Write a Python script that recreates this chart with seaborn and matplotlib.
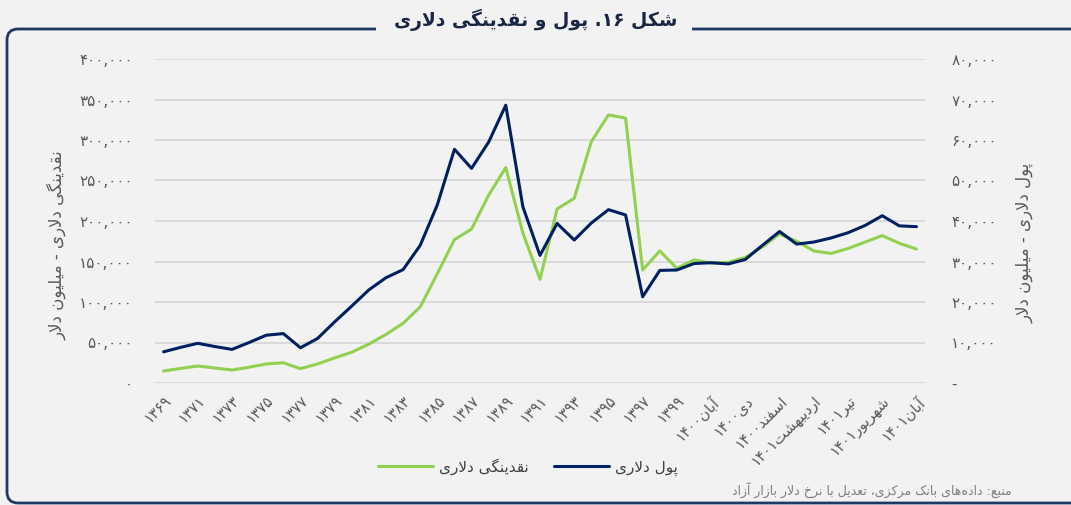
import matplotlib
matplotlib.use("Agg")
import matplotlib.pyplot as plt
from matplotlib.patches import FancyBboxPatch, Rectangle
import numpy as np
import pandas as pd
import seaborn as sns

# ── داده‌ها ───────────────────────────────────────────────
years = [str(y) for y in range(1369, 1400)]
months = ["مهر۱۴۰۰", "آبان۱۴۰۰", "آذر۱۴۰۰", "دی۱۴۰۰", "بهمن۱۴۰۰", "اسفند۱۴۰۰",
          "فروردین۱۴۰۱", "اردیبهشت۱۴۰۱", "خرداد۱۴۰۱", "تیر۱۴۰۱", "مرداد۱۴۰۱",
          "شهریور۱۴۰۱", "مهر۱۴۰۱", "آبان۱۴۰۱"]

# نقدینگی دلاری (میلیون دلار) - محور چپ
liquidity = [14800, 18000, 21000, 18500, 16000, 19500, 23500, 25000, 17700, 23500,
             31000, 38000, 48000, 60000, 73700, 94000, 135000, 177000, 190000, 232000,
             266000, 185000, 128000, 215000, 228000, 298000, 331000, 327000, 139500, 163000,
             141600, 152000, 148000, 149000, 155000, 168000, 184000, 175000, 163000, 160000,
             166000, 174000, 182000, 172500, 165400]

# پول دلاری (میلیون دلار) - محور راست
money = [7700, 8800, 9800, 9000, 8300, 10000, 11800, 12200, 8700, 11000,
         15100, 19000, 23000, 26000, 28000, 34000, 44000, 57700, 53000, 59500,
         68600, 43500, 31500, 39400, 35300, 39500, 42800, 41500, 21300, 27800,
         27900, 29500, 29700, 29400, 30500, 34000, 37400, 34300, 34800, 35800,
         37100, 38900, 41300, 38800, 38600]

title = "شکل ۱۶. پول و نقدینگی دلاری"
left_label = "نقدینگی دلاری - میلیون دلار"
right_label = "پول دلاری - میلیون دلار"
series_names = ["نقدینگی دلاری", "پول دلاری"]
source = "منبع: داده‌های بانک مرکزی، تعدیل با نرخ دلار بازار آزاد"

NAVY = "#002060"
GREEN = "#92D050"
BG = "#F2F2F2"
GRID = "#D9D9D9"
TXT = "#595959"
FRAME = "#1F3864"

# ── شکل‌دهی حروف فارسی (matplotlib اتصال و راست‌به‌چپ ندارد) ────────
FORMS = {  # isolated, final, initial, medial
    "ا": ("\uFE8D", "\uFE8E", None, None),
    "آ": ("\uFE81", "\uFE82", None, None),
    "ب": ("\uFE8F", "\uFE90", "\uFE91", "\uFE92"),
    "پ": ("\uFB56", "\uFB57", "\uFB58", "\uFB59"),
    "ت": ("\uFE95", "\uFE96", "\uFE97", "\uFE98"),
    "ج": ("\uFE9D", "\uFE9E", "\uFE9F", "\uFEA0"),
    "ح": ("\uFEA1", "\uFEA2", "\uFEA3", "\uFEA4"),
    "خ": ("\uFEA5", "\uFEA6", "\uFEA7", "\uFEA8"),
    "د": ("\uFEA9", "\uFEAA", None, None),
    "ذ": ("\uFEAB", "\uFEAC", None, None),
    "ر": ("\uFEAD", "\uFEAE", None, None),
    "ز": ("\uFEAF", "\uFEB0", None, None),
    "س": ("\uFEB1", "\uFEB2", "\uFEB3", "\uFEB4"),
    "ش": ("\uFEB5", "\uFEB6", "\uFEB7", "\uFEB8"),
    "ع": ("\uFEC9", "\uFECA", "\uFECB", "\uFECC"),
    "ف": ("\uFED1", "\uFED2", "\uFED3", "\uFED4"),
    "ق": ("\uFED5", "\uFED6", "\uFED7", "\uFED8"),
    "ک": ("\uFB8E", "\uFB8F", "\uFB90", "\uFB91"),
    "گ": ("\uFB92", "\uFB93", "\uFB94", "\uFB95"),
    "ل": ("\uFEDD", "\uFEDE", "\uFEDF", "\uFEE0"),
    "م": ("\uFEE1", "\uFEE2", "\uFEE3", "\uFEE4"),
    "ن": ("\uFEE5", "\uFEE6", "\uFEE7", "\uFEE8"),
    "ه": ("\uFEE9", "\uFEEA", "\uFEEB", "\uFEEC"),
    "و": ("\uFEED", "\uFEEE", None, None),
    "ی": ("\uFBFC", "\uFBFD", "\uFBFE", "\uFBFF"),
}
LAM_ALEF = {"ا": ("\uFEFB", "\uFEFC"), "آ": ("\uFEF5", "\uFEF6")}
DIGITS = set("0123456789۰۱۲۳۴۵۶۷۸۹")


def to_fa_digits(s):
    return s.translate(str.maketrans("0123456789", "۰۱۲۳۴۵۶۷۸۹"))


def fa(text):
    text = to_fa_digits(text)
    out = []
    k = 0
    n = len(text)
    while k < n:
        c = text[k]
        if c not in FORMS:
            if c != "\u200c":
                out.append(c)
            k += 1
            continue
        prev = text[k - 1] if k > 0 else ""
        prev_joins = prev in FORMS and FORMS[prev][2] is not None
        if c == "ل" and k + 1 < n and text[k + 1] in LAM_ALEF:
            out.append(LAM_ALEF[text[k + 1]][1 if prev_joins else 0])
            k += 2
            continue
        nxt = text[k + 1] if k + 1 < n else ""
        next_joins = FORMS[c][2] is not None and nxt in FORMS
        iso, fin, ini, med = FORMS[c]
        if prev_joins and next_joins:
            out.append(med)
        elif prev_joins:
            out.append(fin)
        elif next_joins:
            out.append(ini)
        else:
            out.append(iso)
        k += 1
    # ترتیب نمایشی: اعداد چپ‌به‌راست، بقیه راست‌به‌چپ
    runs = []
    for ch in out:
        ltr = ch in DIGITS
        if runs and runs[-1][0] == ltr:
            runs[-1][1].append(ch)
        else:
            runs.append([ltr, [ch]])
    vis = ""
    for ltr, chars in reversed(runs):
        vis += "".join(chars) if ltr else "".join(reversed(chars))
    return vis


def fa_num(v):
    return to_fa_digits(f"{int(v):,}")


# ── رسم ────────────────────────────────────────────────
sns.set_theme(style="white")
plt.rcParams["font.family"] = ["DejaVu Sans"]
plt.rcParams["axes.unicode_minus"] = False
plt.rcParams["savefig.bbox"] = None  # اندازهٔ ثابت تصویر

categories = years + months
df = pd.DataFrame({"idx": np.arange(len(categories)), "cat": categories,
                   "liquidity": liquidity, "money": money})

W, H = 1071, 505
fig = plt.figure(figsize=(W / 100, H / 100), dpi=100, facecolor=BG)
ax = fig.add_axes([155 / W, 1 - 383 / H, 770 / W, 324 / H])
ax.set_facecolor(BG)
ax2 = ax.twinx()

sns.lineplot(data=df, x="idx", y="liquidity", ax=ax, color=GREEN, lw=2.2,
             label=fa(series_names[0]), legend=False)
sns.lineplot(data=df, x="idx", y="money", ax=ax2, color=NAVY, lw=2.2,
             label=fa(series_names[1]), legend=False)

ax.set_xlim(-0.5, len(categories) - 0.5)
ax.set_ylim(0, 400000)
ax2.set_ylim(0, 80000)

yt = np.arange(0, 400001, 50000)
ax.set_yticks(yt)
ax.set_yticklabels([fa_num(v) for v in yt])
yt2 = np.arange(0, 80001, 10000)
ax2.set_yticks(yt2)
ax2.set_yticklabels(["-" if v == 0 else fa_num(v) for v in yt2])

ax.set_xticks(df["idx"][::2])
ax.set_xticklabels([fa(c) for c in df["cat"][::2]], rotation=45, ha="right",
                   rotation_mode="anchor", fontsize=10.5, color=TXT)

ax.grid(axis="y", color=GRID, lw=1.4)
ax.grid(axis="x", visible=False)
ax2.grid(False)
for a in (ax, ax2):
    for s in a.spines.values():
        s.set_visible(False)
    a.set_xlabel("")
    a.set_ylabel("")
ax.tick_params(axis="y", length=0, pad=16, labelsize=11, labelcolor=TXT)
ax2.tick_params(axis="y", length=0, pad=19, labelsize=11, labelcolor=TXT)
ax.tick_params(axis="x", length=0, pad=7)

fig.text(57 / W, 1 - 245 / H, fa(left_label), rotation=90, ha="center",
         va="center", fontsize=12, color=TXT)
fig.text(1025 / W, 1 - 243 / H, fa(right_label), rotation=90, ha="center",
         va="center", fontsize=12, color=TXT)

# راهنما
h1, l1 = ax.get_legend_handles_labels()
h2, l2 = ax2.get_legend_handles_labels()
fig.legend(h1 + h2, l1 + l2, loc="center", bbox_to_anchor=(528 / W, 1 - 467 / H),
           ncol=2, frameon=False, fontsize=11, handlelength=3.6, columnspacing=1.6,
           handletextpad=0.4, labelcolor="#404040")

fig.text(1012 / W, 1 - 490 / H, fa(source), ha="right", va="center",
         fontsize=9, color="#808080")

# قاب گرد و عنوان (لبهٔ راست قاب بیرون از تصویر است)
frame = FancyBboxPatch((7 / W, 2 / H), 1150 / W, (H - 31) / H,
                       boxstyle=f"round,pad=0,rounding_size={11 / W}",
                       mutation_aspect=W / H, transform=fig.transFigure,
                       fill=False, ec=FRAME, lw=2, zorder=5)
frame.set_in_layout(False)
fig.add_artist(frame)
gap = Rectangle((376 / W, 1 - 40 / H), 316 / W, 20 / H, transform=fig.transFigure,
                fc=BG, ec="none", zorder=6)
gap.set_in_layout(False)
fig.add_artist(gap)
fig.text(536 / W, 1 - 20 / H, fa(title), ha="center", va="center",
         fontsize=13.5, fontweight="bold", color="#1A2744", zorder=7)

fig.savefig("out.png", dpi=100, facecolor=BG)
